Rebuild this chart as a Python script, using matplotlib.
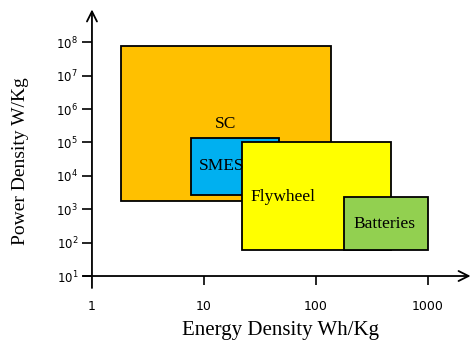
import numpy as np
import matplotlib
matplotlib.use("Agg")
import matplotlib.pyplot as plt
from matplotlib.patches import Rectangle

# Daten: Speichertechnologien (Energiedichte Wh/Kg, Leistungsdichte W/Kg)
names = ["SC", "SMES", "Flywheel", "Batteries"]
e_min = [1.8, 7.6, 22, 178]
e_max = [136, 47, 465, 1000]
p_min = [1760, 2650, 60, 60]
p_max = [7.7e7, 1.35e5, 1.03e5, 2320]
colors = ["#FFC000", "#00B0F0", "#FFFF00", "#92D050"]
# Beschriftungsposition (x, y) in Datenkoordinaten, Ausrichtung
lab_x = [15.7, 9.0, 26, 215]
lab_y = [10**5.55, 10**4.29, 10**3.37, 10**2.56]
lab_ha = ["center", "left", "left", "left"]

xticks = [1, 10, 100, 1000]
yticks = [10.0**k for k in range(1, 9)]

W, H = 471, 341
fig = plt.figure(figsize=(W/100, H/100), dpi=100)
# Achsenfläche in Pixeln: x 83..471, y 8..288
ax = fig.add_axes([83/W, (H-288)/H, (W-83)/W, (288-8)/H])
ax.set_xscale("log")
ax.set_yscale("log")
ax.set_xlim(10**-0.08, 10**3.384)
ax.set_ylim(10**0.641, 10**9.024)
ax.patch.set_visible(False)

for i in range(len(names)):
    r = Rectangle((e_min[i], p_min[i]), e_max[i]-e_min[i], p_max[i]-p_min[i],
                  facecolor=colors[i], edgecolor="black", lw=1.3, zorder=2+i)
    ax.add_patch(r)
    ax.text(lab_x[i], lab_y[i], names[i], ha=lab_ha[i], va="center",
            family="Liberation Serif", fontsize=12.5, zorder=10)

# Achsen mit Pfeilen
for s in ax.spines.values():
    s.set_visible(False)
ax.spines["left"].set_position(("data", 1))
ax.spines["bottom"].set_position(("data", 10))
ax.annotate("", xy=(1, 10**8.98), xytext=(1, 10**0.641),
            arrowprops=dict(arrowstyle="->", lw=1.3, color="black",
                            mutation_scale=18, shrinkA=0, shrinkB=0),
            annotation_clip=False, zorder=20)
ax.annotate("", xy=(10**3.38, 10), xytext=(10**-0.08, 10),
            arrowprops=dict(arrowstyle="->", lw=1.3, color="black",
                            mutation_scale=18, shrinkA=0, shrinkB=0),
            annotation_clip=False, zorder=20)

ax.minorticks_off()
ax.set_xticks(xticks)
ax.set_xticklabels([str(v) for v in xticks])
ax.set_yticks(yticks)
ax.set_yticklabels([r"$10^{%d}$" % k for k in range(1, 9)])
ax.tick_params(axis="x", direction="out", length=6.5, width=1.2, pad=11, labelsize=9)
ax.tick_params(axis="y", direction="out", length=7, width=1.2, pad=3, labelsize=8.5)
ax.xaxis.get_major_ticks()[0].tick1line.set_visible(False)

fig.text(281/W, 1-330/H, "Energy Density Wh/Kg", ha="center", va="center",
         family="Liberation Serif", fontsize=15)
fig.text(21/W, 1-161/H, "Power Density W/Kg", ha="center", va="center",
         rotation=90, family="Liberation Serif", fontsize=14)

fig.savefig("out.png", dpi=100)
